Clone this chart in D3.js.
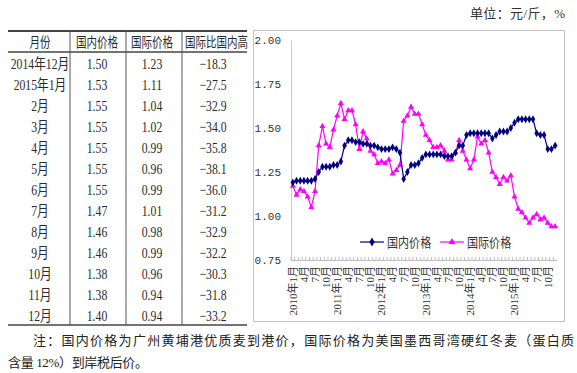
<!DOCTYPE html>
<html>
<head>
<meta charset="utf-8">
<script src="https://cdn.jsdelivr.net/npm/d3@7"></script>
<style>
    body { margin: 0; background: #fff; }
    svg { display: block; }
</style>
</head>
<body>
<svg id="chart" width="577" height="373"></svg>
<script>
// Months 2010-01 .. 2015-12 (category axis)
var years = [2010, 2011, 2012, 2013, 2014, 2015];
var months = [];
years.forEach(function(yr) {
    d3.range(1, 13).forEach(function(m) { months.push(yr + "-" + m); });
});

// Domestic price, yuan/jin
var domestic = [
    1.19, 1.20, 1.20, 1.20, 1.20, 1.20, 1.21, 1.25, 1.28, 1.28, 1.28, 1.29,
    1.29, 1.31, 1.40, 1.43, 1.43, 1.42, 1.42, 1.41, 1.41, 1.40, 1.40, 1.39,
    1.38, 1.38, 1.38, 1.39, 1.38, 1.36, 1.21, 1.25, 1.29, 1.29, 1.30, 1.33,
    1.35, 1.35, 1.35, 1.35, 1.35, 1.34, 1.34, 1.34, 1.36, 1.40, 1.40, 1.46,
    1.47, 1.47, 1.47, 1.47, 1.47, 1.47, 1.44, 1.46, 1.48, 1.48, 1.48, 1.50,
    1.53, 1.55, 1.55, 1.55, 1.55, 1.55, 1.47, 1.46, 1.46, 1.38, 1.38, 1.40
];

// International price, yuan/jin
var international = [
    1.17, 1.12, 1.15, 1.14, 1.11, 1.05, 1.14, 1.40, 1.51, 1.41, 1.39, 1.49,
    1.57, 1.64, 1.55, 1.60, 1.60, 1.52, 1.38, 1.48, 1.44, 1.37, 1.35, 1.30,
    1.31, 1.30, 1.32, 1.24, 1.26, 1.29, 1.54, 1.57, 1.62, 1.58, 1.58, 1.52,
    1.46, 1.43, 1.39, 1.39, 1.40, 1.37, 1.32, 1.32, 1.36, 1.43, 1.37, 1.32,
    1.27, 1.32, 1.45, 1.41, 1.43, 1.36, 1.25, 1.22, 1.18, 1.22, 1.20, 1.23,
    1.11, 1.04, 1.02, 0.99, 0.96, 0.99, 1.01, 0.98, 0.99, 0.96, 0.94, 0.94
];

var yTicks = [0.75, 1.00, 1.25, 1.50, 1.75, 2.00];

// Table on the left
var tableHeader = ["月份", "国内价格", "国际价格", "国际比国内高"];
var tableMonths = ["2014年12月", "2015年1月", "2月", "3月", "4月", "5月", "6月",
    "7月", "8月", "9月", "10月", "11月", "12月"];
var tableDomestic = ["1.50", "1.53", "1.55", "1.55", "1.55", "1.55", "1.55",
    "1.47", "1.46", "1.46", "1.38", "1.38", "1.40"];
var tableIntl = ["1.23", "1.11", "1.04", "1.02", "0.99", "0.96", "0.99",
    "1.01", "0.98", "0.99", "0.96", "0.94", "0.94"];
var tableDiff = ["−18.3", "−27.5", "−32.9", "−34.0", "−35.8", "−38.1", "−36.0",
    "−31.2", "−32.9", "−32.2", "−30.3", "−31.8", "−33.2"];

var seriesNames = ["国内价格", "国际价格"];
var unitText = "单位：元/斤，%";
var note1 = "注：国内价格为广州黄埔港优质麦到港价，国际价格为美国墨西哥湾硬红冬麦（蛋白质";
var note2 = "含量 12%）到岸税后价。";

var svg = d3.select("#chart");
var cjk = "'Liberation Serif', 'Noto Sans CJK SC', serif";

// Squeeze text horizontally, source font is a narrow SimSun
var squeeze = function(sel, ratio) {
    sel.each(function() {
        var w = this.getComputedTextLength();
        d3.select(this)
            .attr("textLength", w * ratio)
            .attr("lengthAdjust", "spacingAndGlyphs");
    });
};

// ---------- Table ----------
var colX = [40, 97, 152, 213];
var tbl = svg.append("g").attr("fill", "#2a2a2a").style("font-family", cjk);

tbl.append("line").attr("x1", 8).attr("x2", 247).attr("y1", 31).attr("y2", 31)
    .attr("stroke", "#444").attr("stroke-width", 2);
tbl.append("line").attr("x1", 8).attr("x2", 247).attr("y1", 52).attr("y2", 52)
    .attr("stroke", "#444").attr("stroke-width", 1.5);
tbl.append("line").attr("x1", 8).attr("x2", 247).attr("y1", 325).attr("y2", 325)
    .attr("stroke", "#444").attr("stroke-width", 1.5);
[70, 126, 182].forEach(function(xv) {
    tbl.append("line").attr("x1", xv).attr("x2", xv).attr("y1", 31).attr("y2", 325)
        .attr("stroke", "#555").attr("stroke-width", 1);
});

// Header cells: scaled with a transform so the box is narrow too
tbl.selectAll(".head")
    .data(tableHeader)
    .join("text")
    .attr("class", "head")
    .attr("transform", function(d, i) {
        return "translate(" + (i == 3 ? 185 : colX[i]) + ",47) scale(0.75,1)";
    })
    .attr("text-anchor", function(d, i) { return i == 3 ? "start" : "middle"; })
    .style("font-size", "14px")
    .text(function(d) { return d; });

var rowY = function(i) { return 64 + i * 21; };
[tableMonths, tableDomestic, tableIntl, tableDiff].forEach(function(col, c) {
    tbl.selectAll(".c" + c)
        .data(col)
        .join("text")
        .attr("class", "c" + c)
        .attr("x", colX[c])
        .attr("y", function(d, i) { return rowY(i) + 5; })
        .attr("text-anchor", "middle")
        .style("font-size", "15px")
        .text(function(d) { return d; })
        .call(squeeze, 0.78);
});

// ---------- Chart ----------
svg.append("rect")
    .attr("x", 253.5).attr("y", 30.5)
    .attr("width", 311).attr("height", 291)
    .attr("fill", "none").attr("stroke", "#c4c4c4");

var x = d3.scaleBand().domain(months).range([291, 557]);
var y = d3.scaleLinear().domain([0.75, 2]).range([260, 40]);
var cx = function(d, i) { return x(months[i]) + x.bandwidth() / 2; };

var yAxis = svg.append("g")
    .attr("transform", "translate(291,0)")
    .call(d3.axisLeft(y).tickValues(yTicks).tickFormat(d3.format(".2f"))
        .tickSize(0).tickPadding(10));
yAxis.select(".domain").attr("stroke", "#c8c8c8");
yAxis.selectAll("text")
    .attr("fill", "#333")
    .style("font-family", "'Liberation Mono', monospace")
    .style("font-size", "11px");

var xAxis = svg.append("g")
    .attr("transform", "translate(0,260)")
    .call(d3.axisBottom(x).tickFormat("").tickSizeInner(-3).tickSizeOuter(0));
xAxis.select(".domain").attr("stroke", "#bdbdbd");
xAxis.selectAll(".tick line")
    .attr("stroke", "#bdbdbd")
    .attr("transform", "translate(" + (-x.bandwidth() / 2) + ",0)");

svg.append("g")
    .selectAll("text")
    .data(months.filter(function(d, i) { return i % 3 == 0; }))
    .join("text")
    .attr("transform", function(d) {
        return "translate(" + (x(d) + x.bandwidth() / 2) + ",266) rotate(-90)";
    })
    .attr("dy", "0.35em")
    .attr("text-anchor", "end")
    .attr("fill", "#333")
    .style("font-family", cjk)
    .style("font-size", "11px")
    .text(function(d) {
        var p = d.split("-");
        return p[1] == "1" ? p[0] + "年1月" : p[1] + "月";
    });

var line = d3.line().x(cx).y(function(d) { return y(d); });

var series = [
    {values: domestic, color: "#000080", symbol: d3.symbolDiamond, size: 18},
    {values: international, color: "#ff00ff", symbol: d3.symbolTriangle, size: 16}
];

series.slice().reverse().forEach(function(s) {
    svg.append("path")
        .datum(s.values)
        .attr("fill", "none")
        .attr("stroke", s.color)
        .attr("stroke-width", 1.2)
        .attr("d", line);

    svg.append("g")
        .selectAll("path")
        .data(s.values)
        .join("path")
        .attr("transform", function(d, i) {
            return "translate(" + cx(d, i) + "," + y(d) + ")";
        })
        .attr("d", d3.symbol().type(s.symbol).size(s.size))
        .attr("fill", s.color);
});

// Legend
var legend = svg.append("g").attr("transform", "translate(360,242)");
var legendX = [0, 80];
series.forEach(function(s, i) {
    var g = legend.append("g").attr("transform", "translate(" + legendX[i] + ",0)");
    g.append("line").attr("x1", 0).attr("x2", 24).attr("stroke", s.color).attr("stroke-width", 1.2);
    g.append("path")
        .attr("transform", "translate(12,0)")
        .attr("d", d3.symbol().type(s.symbol).size(s.size + 6))
        .attr("fill", s.color);
    g.append("text")
        .attr("x", 27).attr("y", 5)
        .attr("fill", "#333")
        .style("font-family", cjk)
        .style("font-size", "13px")
        .text(seriesNames[i])
        .call(squeeze, 0.85);
});

// Unit and note
svg.append("text")
    .attr("x", 470).attr("y", 18)
    .attr("fill", "#333")
    .style("font-family", cjk)
    .style("font-size", "13px")
    .attr("textLength", 95)
    .attr("lengthAdjust", "spacing")
    .text(unitText);

svg.append("text")
    .attr("x", 33).attr("y", 345)
    .attr("fill", "#222")
    .style("font-family", cjk)
    .style("font-size", "13px")
    .attr("textLength", 541)
    .attr("lengthAdjust", "spacing")
    .text(note1);

svg.append("text")
    .attr("x", 8).attr("y", 367)
    .attr("fill", "#222")
    .style("font-family", cjk)
    .style("font-size", "13px")
    .attr("textLength", 140)
    .attr("lengthAdjust", "spacing")
    .text(note2);
</script>
</body>
</html>
